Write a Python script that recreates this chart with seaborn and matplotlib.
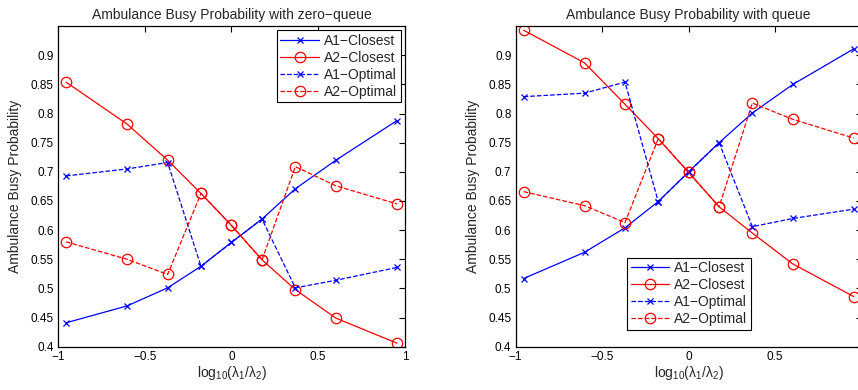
import numpy as np
import pandas as pd
import matplotlib
matplotlib.use("Agg")
import matplotlib.pyplot as plt
import seaborn as sns

# ---- data ----
x_vals = [-0.954, -0.602, -0.368, -0.176, 0.0, 0.176, 0.368, 0.602, 0.954]

zq_a1_closest = [0.441, 0.470, 0.501, 0.538, 0.579, 0.619, 0.671, 0.720, 0.788]
zq_a2_closest = [0.854, 0.782, 0.720, 0.663, 0.608, 0.549, 0.498, 0.449, 0.406]
zq_a1_optimal = [0.693, 0.705, 0.716, 0.538, 0.579, 0.619, 0.501, 0.514, 0.536]
zq_a2_optimal = [0.580, 0.550, 0.524, 0.663, 0.608, 0.549, 0.709, 0.676, 0.645]

q_a1_closest = [0.517, 0.562, 0.604, 0.649, 0.700, 0.750, 0.801, 0.850, 0.911]
q_a2_closest = [0.943, 0.887, 0.816, 0.757, 0.699, 0.640, 0.595, 0.542, 0.486]
q_a1_optimal = [0.829, 0.835, 0.854, 0.649, 0.700, 0.750, 0.606, 0.620, 0.636]
q_a2_optimal = [0.666, 0.642, 0.613, 0.757, 0.699, 0.640, 0.818, 0.790, 0.758]

series_labels = ["A1\u2212Closest", "A2\u2212Closest", "A1\u2212Optimal", "A2\u2212Optimal"]
titles = ["Ambulance Busy Probability with zero\u2212queue",
          "Ambulance Busy Probability with queue"]
y_label = "Ambulance Busy Probability"
x_label = r"log$_{10}$($\lambda_1$/$\lambda_2$)"
x_ticks = [-1, -0.5, 0, 0.5, 1]
x_tick_labels_left = ["\u22121", "\u22120.5", "0", "0.5", "1"]
x_tick_labels_right = ["\u22121", "\u22120.5", "0", "0.5", ""]
y_ticks = [0.4, 0.45, 0.5, 0.55, 0.6, 0.65, 0.7, 0.75, 0.8, 0.85, 0.9]
y_tick_labels = ["0.4", "0.45", "0.5", "0.55", "0.6", "0.65", "0.7", "0.75", "0.8", "0.85", "0.9"]

sns.set_theme(style="white")
plt.rcParams["font.family"] = ["Liberation Sans", "DejaVu Sans"]
plt.rcParams["mathtext.fontset"] = "custom"
plt.rcParams["mathtext.rm"] = "Liberation Sans"
plt.rcParams["mathtext.it"] = "Liberation Sans"
plt.rcParams["mathtext.default"] = "rm"

fig = plt.figure(figsize=(8.58, 3.90), dpi=100)
ax1 = fig.add_axes([0.0676, 0.111, 0.4044, 0.822])
ax2 = fig.add_axes([0.6010, 0.111, 0.4033, 0.822])

styles = [
    dict(color="#0000ff", marker="x", linestyle="-", markerfacecolor="none", markeredgecolor="#0000ff", markersize=5, markeredgewidth=0.9),
    dict(color="#ff0000", marker="o", linestyle="-", markerfacecolor="none", markeredgecolor="#ff0000", markersize=7.5, markeredgewidth=0.9),
    dict(color="#0000ff", marker="x", linestyle="--", markerfacecolor="none", markeredgecolor="#0000ff", markersize=5, markeredgewidth=0.9, dashes=(5, 4)),
    dict(color="#ff0000", marker="o", linestyle="--", markerfacecolor="none", markeredgecolor="#ff0000", markersize=7.5, markeredgewidth=0.9, dashes=(5, 4)),
]

datasets = [
    [zq_a1_closest, zq_a2_closest, zq_a1_optimal, zq_a2_optimal],
    [q_a1_closest, q_a2_closest, q_a1_optimal, q_a2_optimal],
]

for ax, data, title, xtl in zip([ax1, ax2], datasets, titles,
                                [x_tick_labels_left, x_tick_labels_right]):
    for vals, lab, st in zip(data, series_labels, styles):
        df = pd.DataFrame({"x": x_vals, "y": vals})
        sns.lineplot(data=df, x="x", y="y", ax=ax, label=lab, linewidth=0.9, **st)
    ax.set_xlim(-1, 1)
    ax.set_ylim(0.4, 0.95)
    ax.set_xticks(x_ticks)
    ax.set_xticklabels(xtl)
    ax.set_yticks(y_ticks)
    ax.set_yticklabels(y_tick_labels)
    ax.tick_params(direction="in", top=True, right=True, length=4, width=0.8,
                   labelsize=8.5, colors="black", pad=3)
    for sp in ax.spines.values():
        sp.set_visible(True)
        sp.set_color("black")
        sp.set_linewidth(0.9)
    ax.set_title(title, fontsize=10, pad=5)
    ax.set_xlabel(x_label, fontsize=10, labelpad=1)
    ax.set_ylabel(y_label, fontsize=10, labelpad=6)

leg_kw = dict(fontsize=10, frameon=True, fancybox=False, edgecolor="black",
              framealpha=1, handlelength=2.8, borderpad=0.25, labelspacing=0.22,
              handletextpad=0.35, borderaxespad=0.3)
l1 = ax1.legend(loc="upper right", **leg_kw)
l2 = ax2.legend(loc="lower left", bbox_to_anchor=(0.31, 0.04), **leg_kw)
for l in (l1, l2):
    l.get_frame().set_linewidth(0.8)

fig.savefig("out.png", dpi=100, facecolor="white")
